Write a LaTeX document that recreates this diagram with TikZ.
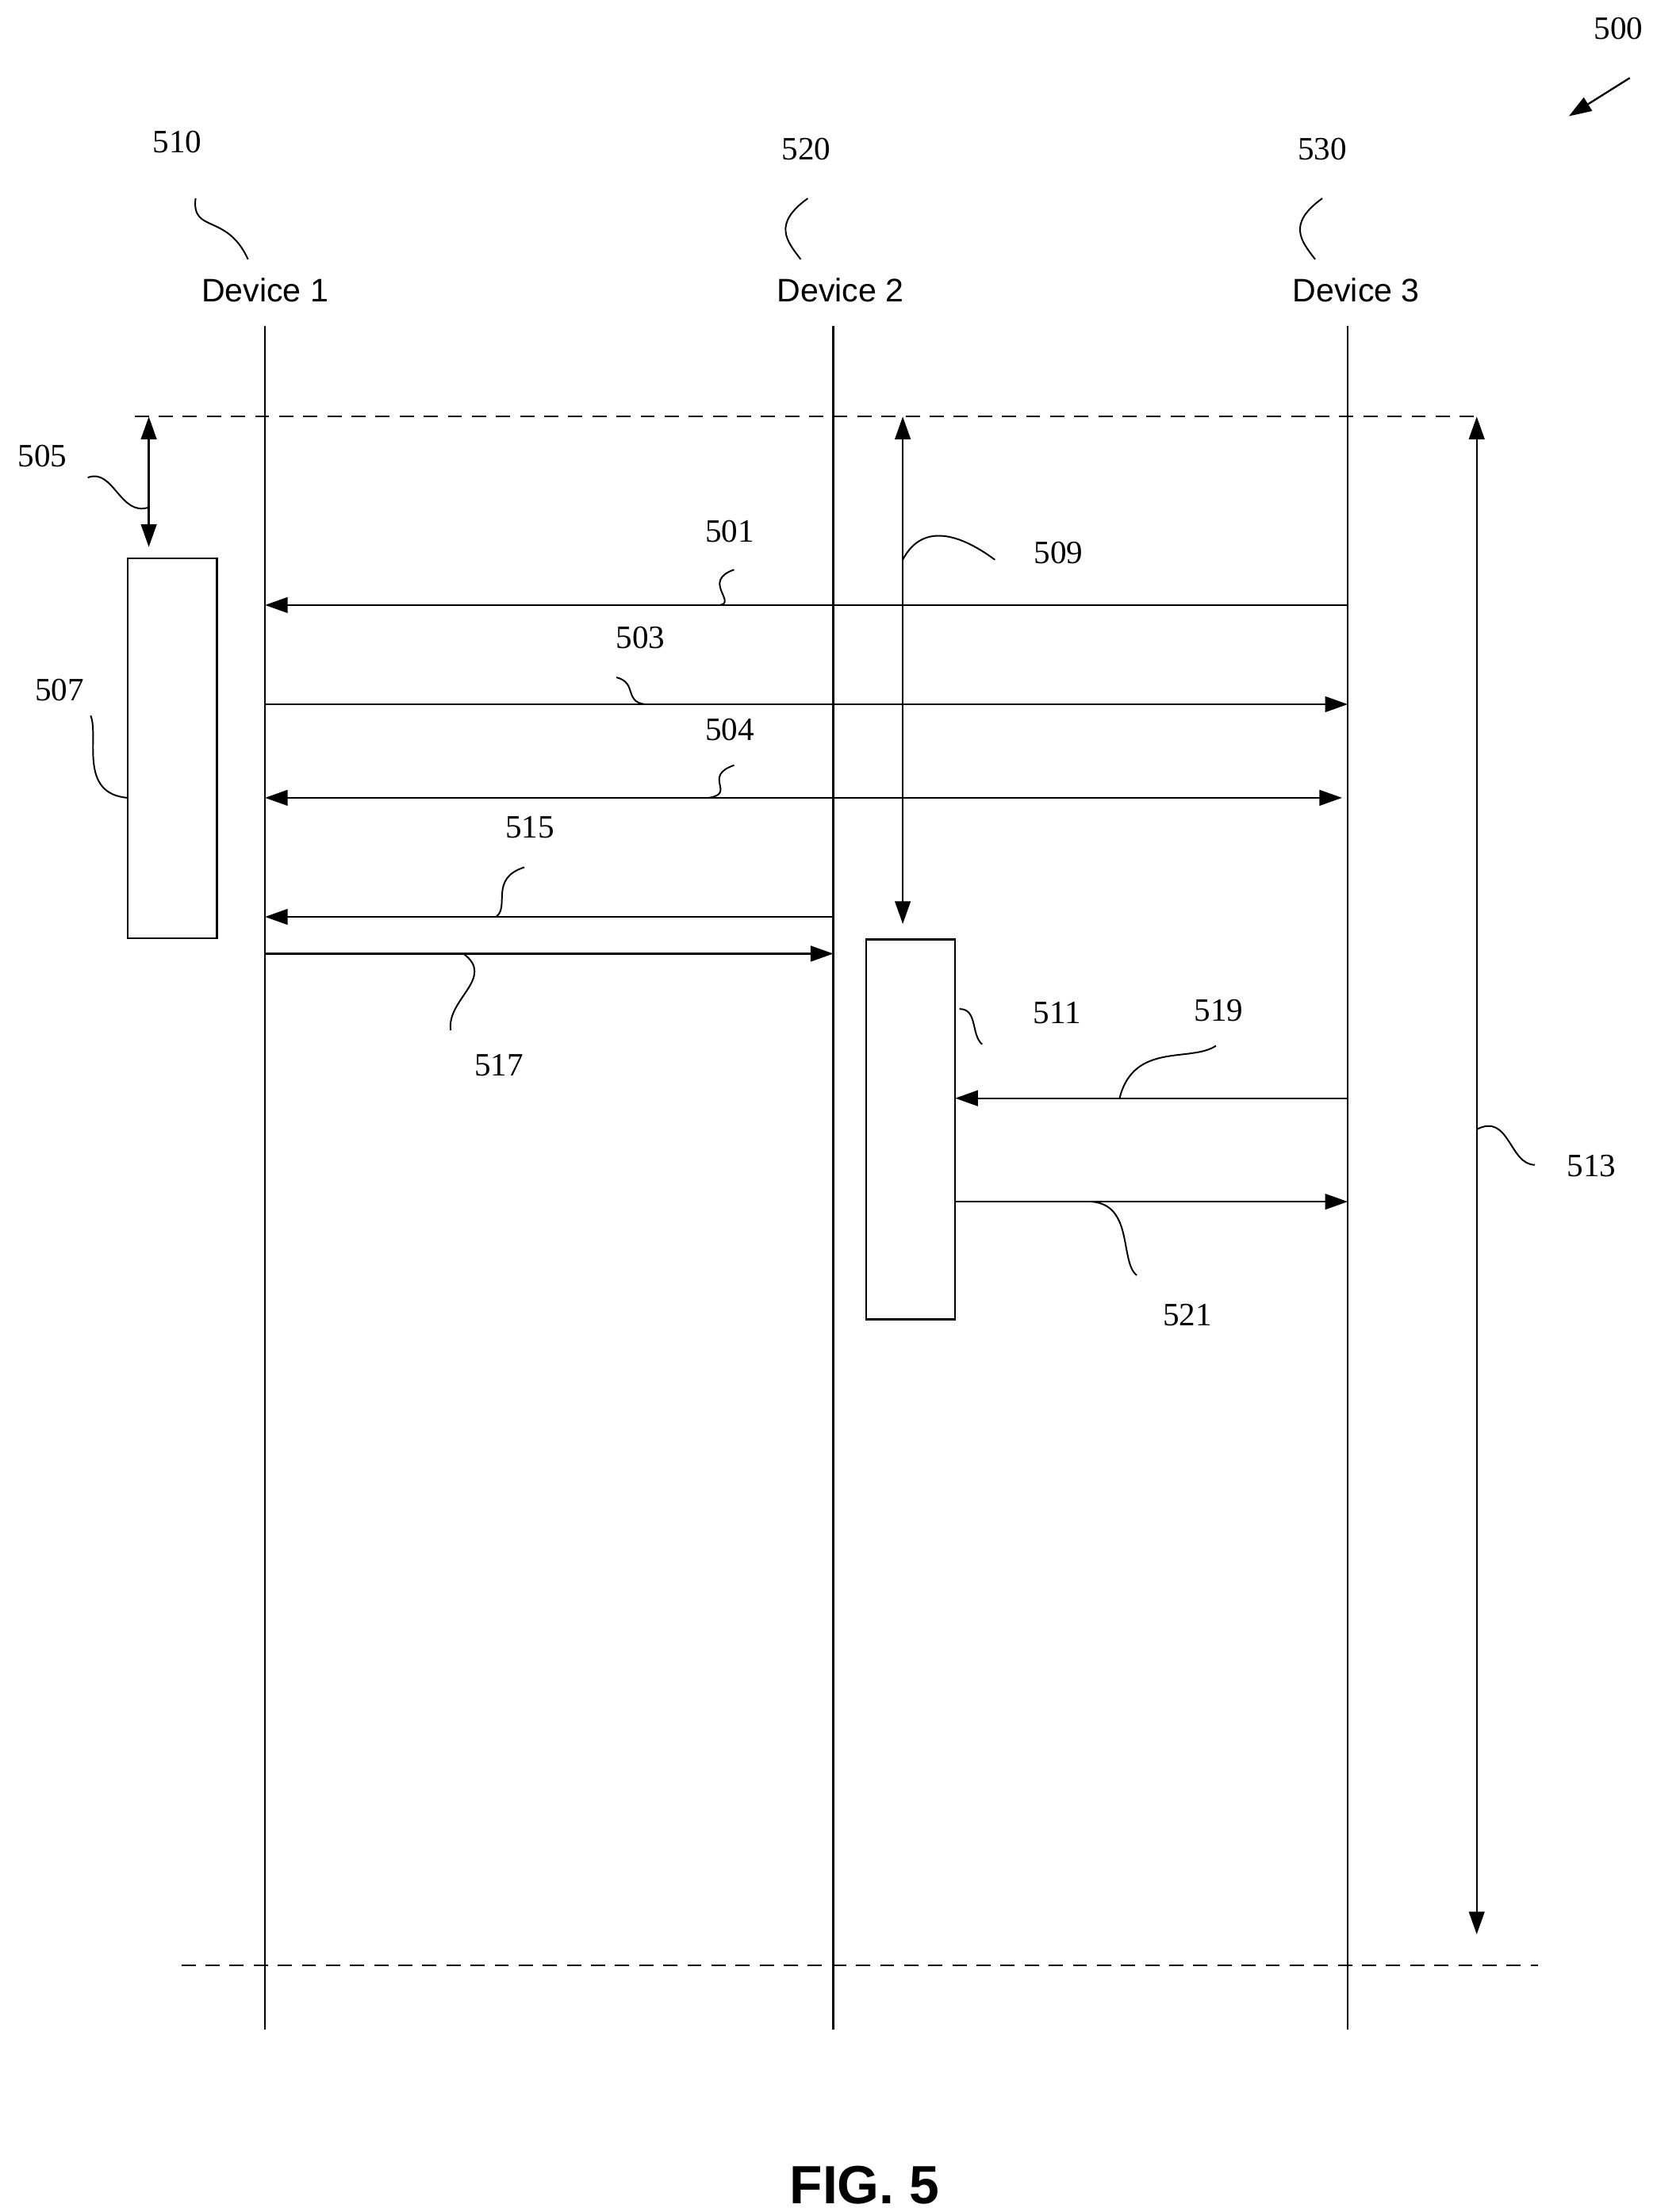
\documentclass[tikz,border=0pt]{standalone}
\usepackage{fontspec}
\setmainfont{Liberation Serif}
\setsansfont{Liberation Sans}
\usetikzlibrary{arrows.meta}
\begin{document}
\begin{tikzpicture}[x=1pt,y=-1pt,line width=1.3pt,
 num/.style={font=\fontsize{23}{23}\selectfont},
 dev/.style={font=\sffamily\fontsize{23}{23}\selectfont},
 arr/.style={-{Triangle[length=16pt,width=11pt]}},
 darr/.style={{Triangle[length=16pt,width=11pt]}-{Triangle[length=16pt,width=11pt]}},
 dsh/.style={dash pattern=on 10pt off 7pt},
 lead/.style={line width=1.1pt}]
\useasboundingbox (0,0) rectangle (1169,1561);
% lifelines
\coordinate (l1t) at (187,230); \coordinate (l1b) at (187,1432);
\coordinate (l2t) at (588,230); \coordinate (l2b) at (588,1432);
\coordinate (l3t) at (951,230); \coordinate (l3b) at (951,1432);
\draw (l1t)--(l1b); \draw (l2t)--(l2b); \draw (l3t)--(l3b);
\node[dev] (d1) at (187,205) {Device 1};
\node[dev] (d2) at (593,205) {Device 2};
\node[dev] (d3) at (957,205) {Device 3};
\node[num] (n510) at (125,100) {510};
\node[num] (n520) at (569,105) {520};
\node[num] (n530) at (933,105) {530};
\draw[lead] (138,140) .. controls (135,165) and (160,150) .. (175,183);
\draw[lead] (570,140) .. controls (545,158) and (555,170) .. (565,183);
\draw[lead] (933,140) .. controls (908,158) and (918,170) .. (928,183);
\node[num] (n500) at (1142,20) {500};
\coordinate (a500s) at (1150,55); \coordinate (a500e) at (1107,82);
\draw[arr] (a500s)--(a500e);
% dashed
\coordinate (dt1) at (95,294); \coordinate (dt2) at (1045,294);
\coordinate (db1) at (128,1387); \coordinate (db2) at (1085,1387);
\draw[dsh] (dt1)--(dt2); \draw[dsh] (db1)--(db2);
% 505
\coordinate (a505t) at (105,294); \coordinate (a505b) at (105,386);
\draw[darr] (a505t)--(a505b);
\node[num] at (30,322) {505};
\draw[lead] (62,337) .. controls (80,330) and (85,365) .. (105,358);
% boxes
\node[draw,minimum width=63pt,minimum height=268pt,inner sep=0] (b507) at (121.5,528) {};
\node[draw,minimum width=63pt,minimum height=268pt,inner sep=0] (b511) at (642.5,797) {};
\node[num] at (42,487) {507};
\draw[lead] (64,505) .. controls (70,520) and (55,560) .. (90,563);
% messages
\draw[arr] (951,427)--(187,427);
\node[num] at (515,375) {501};
\draw[lead] (518,402) .. controls (495,410) and (520,425) .. (508,427);
\draw[arr] (187,497)--(951,497);
\node[num] at (452,450) {503};
\draw[lead] (435,478) .. controls (450,482) and (440,495) .. (455,497);
\draw[darr] (187,563)--(947,563);
\node[num] at (515,515) {504};
\draw[lead] (518,540) .. controls (495,548) and (520,560) .. (500,563);
\draw[arr] (588,647)--(187,647);
\node[num] at (374,584) {515};
\draw[lead] (370,612) .. controls (345,620) and (360,640) .. (350,647);
\draw[arr] (187,673)--(588,673);
\node[num] at (352,752) {517};
\draw[lead] (327,673) .. controls (350,690) and (315,705) .. (318,727);
% 509
\draw[darr] (637,294)--(637,652);
\node[num] at (747,390) {509};
\draw[lead] (637,395) .. controls (650,370) and (675,375) .. (702,395);
% 511 side
\node[num] at (746,715) {511};
\draw[lead] (677,712) .. controls (690,712) and (685,730) .. (693,737);
\draw[arr] (951,775)--(674,775);
\node[num] at (860,713) {519};
\draw[lead] (790,775) .. controls (800,735) and (840,750) .. (858,738);
\draw[arr] (674,848)--(951,848);
\node[num] at (838,928) {521};
\draw[lead] (770,848) .. controls (800,850) and (790,890) .. (802,900);
% 513
\draw[darr] (1042,294)--(1042,1365);
\node[num] at (1123,823) {513};
\draw[lead] (1042,797) .. controls (1065,785) and (1065,822) .. (1083,822);
\node[font=\sffamily\bfseries\fontsize{38}{38}\selectfont] at (610,1542) {FIG. 5};
\end{tikzpicture}
\end{document}
